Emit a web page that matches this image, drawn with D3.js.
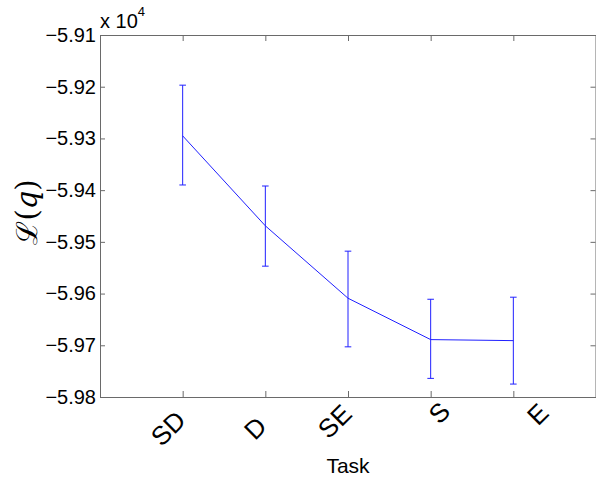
<!DOCTYPE html>
<html>
<head>
<meta charset="utf-8">
<script src="https://cdn.jsdelivr.net/npm/d3@7"></script>
<style>
  body { margin: 0; background: #fff; }
  svg { display: block; font-family: "Liberation Sans", Arial, Helvetica, sans-serif; }
</style>
</head>
<body>
<svg id="chart" width="596" height="478"></svg>
<script>
// values (log-likelihood, raw units)
var tasks = ["SD", "D", "SE", "S", "E"];
var meanL = [-59295, -59469, -59609, -59689, -59691];
var upperL = [-59197, -59392, -59518, -59611, -59607];
var lowerL = [-59390, -59547, -59703, -59764, -59775];
var yTicks = [-59100, -59200, -59300, -59400, -59500, -59600, -59700, -59800];

var margin = {left: 100, top: 35, right: 0, bottom: 81};
var W = 596, H = 478;
var width = W - margin.left - margin.right;
var height = H - margin.top - margin.bottom;
var axisColor = "#6a6a6a";

var svg = d3.select("#chart");
svg.append("rect").attr("width", W).attr("height", H).attr("fill", "white");

var xs = d3.scaleLinear().domain([0, 6]).range([margin.left, margin.left + width]);
var ys = d3.scaleLinear().domain([-59800, -59100]).range([margin.top + height, margin.top]);

var fmt = function(d) { return d3.format(".2f")(d / 1e4).replace("-", "\u2212"); };
var xIdx = tasks.map((t, i) => i + 1);

// box with inward ticks on every side
function styleAxis(g) {
    g.selectAll("path.domain").attr("stroke", axisColor);
    g.selectAll(".tick line").attr("stroke", axisColor);
}
svg.append("g")
    .attr("transform", "translate(" + margin.left + ",0)")
    .call(d3.axisLeft(ys).tickValues(yTicks).tickFormat(fmt).tickSizeInner(-5).tickSizeOuter(0).tickPadding(4))
    .call(styleAxis)
    .call(g => g.selectAll("text").attr("fill", "#000").style("font-size", "20px"));
svg.append("g")
    .attr("transform", "translate(" + (margin.left + width - 0.5) + ",0)")
    .call(d3.axisRight(ys).tickValues(yTicks).tickFormat("").tickSizeInner(-5).tickSizeOuter(0))
    .call(styleAxis);
svg.append("g")
    .attr("transform", "translate(0," + (margin.top + height) + ")")
    .call(d3.axisBottom(xs).tickValues(xIdx).tickFormat("").tickSizeInner(-6).tickSizeOuter(0))
    .call(styleAxis);
svg.append("g")
    .attr("transform", "translate(0," + margin.top + ")")
    .call(d3.axisTop(xs).tickValues(xIdx).tickFormat("").tickSizeInner(-6).tickSizeOuter(0))
    .call(styleAxis);

// rotated category labels (centre offsets from tick, as placed in the original)
var labelNudge = [[-14.7, 31], [-10.3, 31], [-13.5, 24], [8.3, 15.5], [24.2, 17]];
svg.append("g").selectAll("text")
    .data(tasks)
    .enter()
    .append("text")
        .attr("transform", (d, i) => "translate(" + (xs(i + 1) + labelNudge[i][0]) + "," + (margin.top + height + labelNudge[i][1]) + ") rotate(-45)")
        .attr("text-anchor", "middle")
        .attr("dy", "0.36em")
        .style("font-size", "26px")
        .text(d => d);

// exponent note
var ex = svg.append("text")
    .attr("x", margin.left)
    .attr("y", 28)
    .style("font-size", "20px");
ex.append("tspan").text("x 10");
ex.append("tspan").attr("dy", -12).style("font-size", "13px").text("4");

// axis titles
svg.append("text")
    .attr("x", margin.left + width / 2)
    .attr("y", 473)
    .attr("text-anchor", "middle")
    .style("font-size", "21px")
    .text("Task");

var yl = svg.append("text")
    .attr("transform", "translate(27,212) rotate(-90)")
    .attr("text-anchor", "middle")
    .attr("dy", "0.35em")
    .style("font-family", "'DejaVu Serif', 'Liberation Serif', serif")
    .style("font-size", "29px");
yl.append("tspan").text("\u2112(");
yl.append("tspan").style("font-style", "italic").text("q");
yl.append("tspan").text(")");

// mean line + error bars
var blue = "#2020ff";
var plot = svg.append("g");
plot.append("path")
    .datum(meanL)
    .attr("fill", "none")
    .attr("stroke", blue)
    .attr("stroke-width", 1)
    .attr("d", d3.line().x((d, i) => xs(i + 1)).y(d => ys(d)));

var bars = plot.selectAll("g.err")
    .data(tasks)
    .enter()
    .append("g")
    .attr("class", "err")
    .attr("stroke", blue)
    .attr("stroke-width", 1);
bars.append("line")
    .attr("x1", (d, i) => xs(i + 1)).attr("x2", (d, i) => xs(i + 1))
    .attr("y1", (d, i) => ys(upperL[i])).attr("y2", (d, i) => ys(lowerL[i]));
bars.append("line")
    .attr("x1", (d, i) => xs(i + 1) - 3.3).attr("x2", (d, i) => xs(i + 1) + 3.3)
    .attr("y1", (d, i) => ys(upperL[i])).attr("y2", (d, i) => ys(upperL[i]));
bars.append("line")
    .attr("x1", (d, i) => xs(i + 1) - 3.3).attr("x2", (d, i) => xs(i + 1) + 3.3)
    .attr("y1", (d, i) => ys(lowerL[i])).attr("y2", (d, i) => ys(lowerL[i]));
</script>
</body>
</html>
